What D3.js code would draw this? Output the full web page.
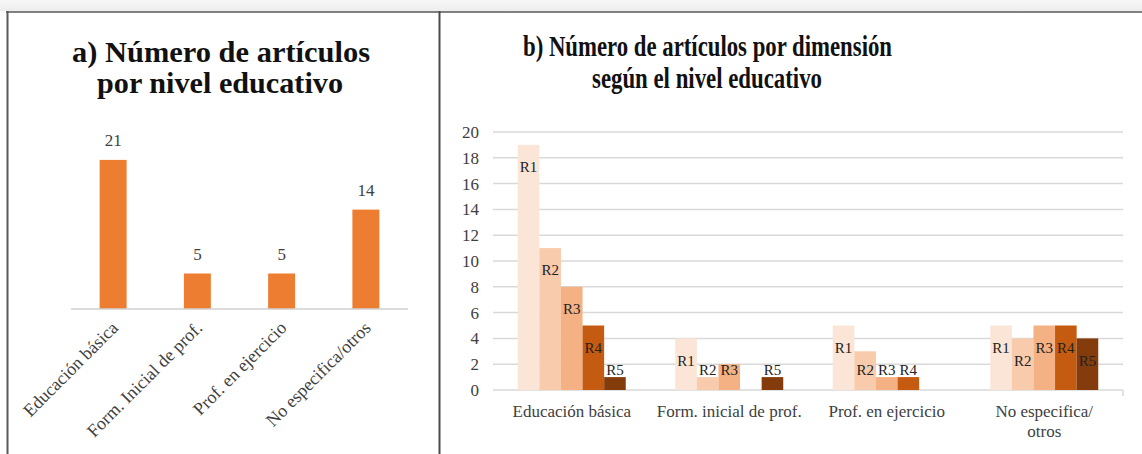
<!DOCTYPE html>
<html><head><meta charset="utf-8">
<script src="https://cdn.jsdelivr.net/npm/d3@7"></script>
<style>html,body{margin:0;padding:0;background:#fff;}svg{display:block;} svg text{font-family:"Liberation Serif","Times New Roman",Times,"DejaVu Serif",serif;}</style>
</head><body>
<svg id="c" width="1142" height="454"></svg>
<script>
// ---- data ----
const levelsA = ["Educación básica", "Form. Inicial de prof.", "Prof. en ejercicio", "No especifica/otros"];
const valuesA = [21, 5, 5, 14];

const levelsB = ["Educación básica", "Form. inicial de prof.", "Prof. en ejercicio", "No especifica/\notros"];
const dims = ["R1", "R2", "R3", "R4", "R5"];
const r1 = [19, 4, 5, 5];
const r2 = [11, 1, 3, 4];
const r3 = [8, 2, 1, 5];
const r4 = [5, 0, 1, 5];
const r5 = [1, 1, 0, 4];
const seriesB = [r1, r2, r3, r4, r5];
const ticksB = [0, 2, 4, 6, 8, 10, 12, 14, 16, 18, 20];
const dimColors = ["#FBE5D6", "#F8CBAD", "#F4B183", "#C55A11", "#843C0C"];

const FONT = "'Liberation Serif', 'Times New Roman', Times, 'DejaVu Serif', serif";
const svg = d3.select("#c").attr("font-family", FONT);

// frame
const defs = svg.append("defs");
const g0 = defs.append("linearGradient").attr("id","topg").attr("x1",0).attr("y1",0).attr("x2",0).attr("y2",1);
g0.append("stop").attr("offset","0").attr("stop-color","#f7f7f7");
g0.append("stop").attr("offset","1").attr("stop-color","#ededed");
svg.append("rect").attr("x",0).attr("y",0).attr("width",1142).attr("height",11).attr("fill","url(#topg)");
svg.append("line").attr("x1",6).attr("x2",1142).attr("y1",12).attr("y2",12).attr("stroke","#808080").attr("stroke-width",2);
svg.append("line").attr("x1",7.5).attr("x2",7.5).attr("y1",11).attr("y2",454).attr("stroke","#5a5a5a").attr("stroke-width",2);
svg.append("line").attr("x1",439.5).attr("x2",439.5).attr("y1",11).attr("y2",454).attr("stroke","#4a4a4a").attr("stroke-width",2);

// ---- panel a ----
svg.append("text").attr("x",221).attr("y",62).attr("text-anchor","middle")
  .attr("font-family",FONT).attr("font-weight","bold").attr("font-size",30).attr("fill","#111")
  .attr("textLength",298).attr("lengthAdjust","spacingAndGlyphs")
  .text("a) Número de artículos");
svg.append("text").attr("x",220).attr("y",93).attr("text-anchor","middle")
  .attr("font-family",FONT).attr("font-weight","bold").attr("font-size",30).attr("fill","#111")
  .attr("textLength",246).attr("lengthAdjust","spacingAndGlyphs")
  .text("por nivel educativo");

const xA = d3.scaleBand().domain(levelsA).range([71,408]).paddingInner(0.68).paddingOuter(0.34);
const yA = d3.scaleLinear().domain([0,25]).range([309,131.5]);
const gA = svg.append("g");
gA.selectAll("rect.a").data(levelsA).join("rect").attr("class","a")
  .attr("x",d=>xA(d)).attr("width",xA.bandwidth())
  .attr("y",(d,i)=>yA(valuesA[i])).attr("height",(d,i)=>yA(0)-yA(valuesA[i]))
  .attr("fill","#ED7D31");
svg.append("line").attr("x1",71).attr("x2",408).attr("y1",yA(0)).attr("y2",yA(0))
  .attr("stroke","#d0d0d0").attr("stroke-width",1.5);
gA.selectAll("text.v").data(levelsA).join("text").attr("class","v")
  .attr("x",d=>xA(d)+xA.bandwidth()/2).attr("y",(d,i)=>yA(valuesA[i])-14)
  .attr("font-family",FONT).attr("text-anchor","middle").attr("font-size",17).attr("fill","#404040")
  .text((d,i)=>valuesA[i]);
gA.selectAll("text.l").data(levelsA).join("text").attr("class","l")
  .attr("transform",d=>`translate(${xA(d)+xA.bandwidth()/2+6},${yA(0)+20}) rotate(-45)`)
  .attr("font-family",FONT).attr("text-anchor","end").attr("font-size",18).attr("fill","#404040")
  .text(d=>d);

// ---- panel b ----
svg.append("text").attr("x",707.5).attr("y",56).attr("text-anchor","middle")
  .attr("font-family",FONT).attr("font-weight","bold").attr("font-size",30).attr("fill","#111")
  .attr("textLength",369).attr("lengthAdjust","spacingAndGlyphs")
  .text("b) Número de artículos por dimensión");
svg.append("text").attr("x",707).attr("y",88).attr("text-anchor","middle")
  .attr("font-family",FONT).attr("font-weight","bold").attr("font-size",30).attr("fill","#111")
  .attr("textLength",230).attr("lengthAdjust","spacingAndGlyphs")
  .text("según el nivel educativo");

const x0 = d3.scaleBand().domain(levelsB).range([493,1123]);
const x1 = d3.scaleBand().domain(dims).range([0,108]);
const yB = d3.scaleLinear().domain([0,20]).range([390,132]);

const gB = svg.append("g");
gB.selectAll("line.grid").data(ticksB).join("line").attr("class","grid")
  .attr("x1",493).attr("x2",1123).attr("y1",d=>yB(d)).attr("y2",d=>yB(d))
  .attr("stroke","#d9d9d9").attr("stroke-width",1.5);
gB.append("line").attr("x1",1123).attr("x2",1123).attr("y1",yB(0)).attr("y2",yB(0)+6)
  .attr("stroke","#d9d9d9").attr("stroke-width",1.5);

const yAxis = d3.axisLeft(yB).tickValues(ticksB).tickSize(0).tickPadding(0);
const ax = gB.append("g").attr("transform","translate(479,0)").call(yAxis);
ax.attr("font-family",FONT);
ax.select(".domain").remove();
ax.selectAll("text").attr("font-size",17).attr("fill","#404040").attr("font-family",FONT);

const cells = [];
levelsB.forEach((c,ci)=>{
  dims.forEach((d,di)=>{
    cells.push({cat:c, dim:d, di:di, v:seriesB[di][ci]});
  });
});
const groupW = x1.range()[1];
const gx = c => x0(c) + (x0.bandwidth()-groupW)/2;
gB.selectAll("rect.b").data(cells).join("rect").attr("class","b")
  .attr("x",d=>gx(d.cat)+x1(d.dim)).attr("width",x1.bandwidth())
  .attr("y",d=>yB(d.v)).attr("height",d=>yB(0)-yB(d.v))
  .attr("fill",d=>dimColors[d.di]);
gB.selectAll("text.r").data(cells.filter(d=>d.v>0)).join("text").attr("class","r")
  .attr("x",d=>gx(d.cat)+x1(d.dim)+x1.bandwidth()/2)
  .attr("y",d=>Math.min(yB(d.v)+22, yB(0)-20))
  .attr("font-family",FONT).attr("dy","0.35em").attr("text-anchor","middle").attr("font-size",15).attr("fill","#222")
  .text(d=>d.dim);

const cl = gB.selectAll("text.c").data(levelsB).join("text").attr("class","c")
  .attr("x",d=>x0(d)+x0.bandwidth()/2).attr("y",417)
  .attr("font-family",FONT).attr("text-anchor","middle").attr("font-size",17).attr("fill","#404040");
cl.each(function(d){
  const parts = d.split("\n");
  const t = d3.select(this);
  parts.forEach((p,i)=>{
    t.append("tspan").attr("x",x0(d)+x0.bandwidth()/2).attr("dy",i===0?0:20).text(p);
  });
});
</script>
</body></html>
